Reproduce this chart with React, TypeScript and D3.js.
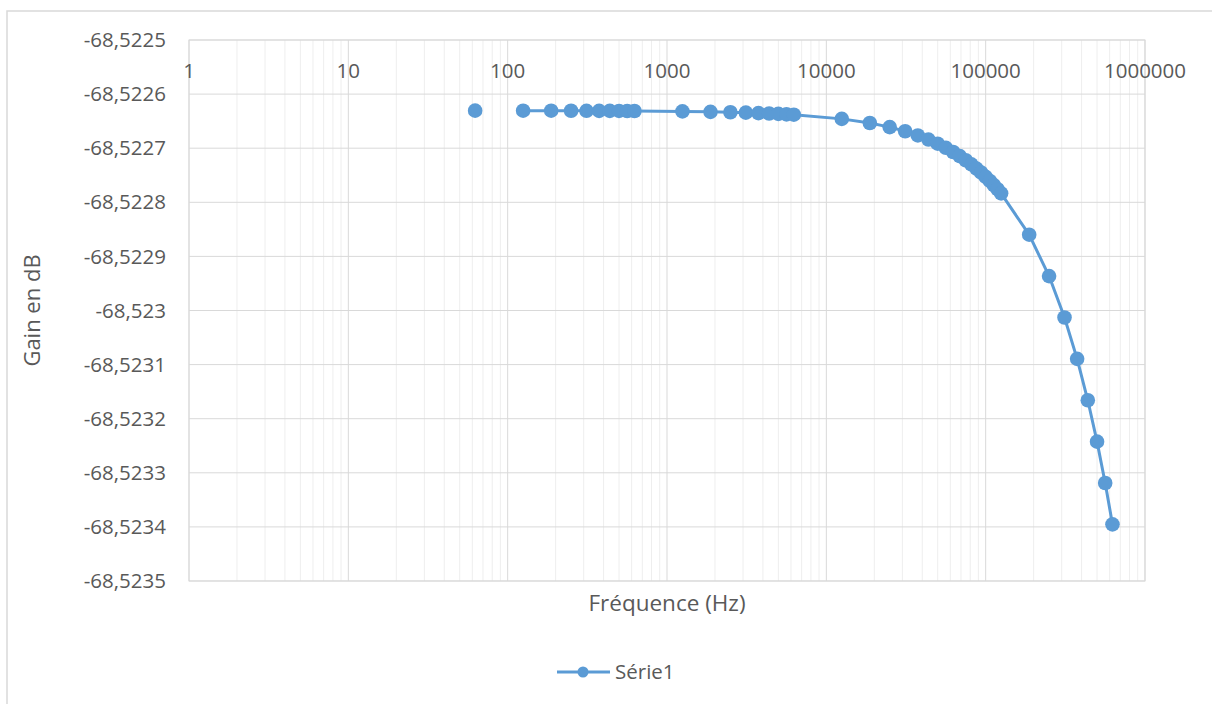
import * as d3 from 'd3';

// Frequencies (Hz) and gain (dB)
const FREQ = [
  62.5, 125, 187.5, 250, 312.5, 375, 437.5, 500, 562.5, 625,
  1250, 1875, 2500, 3125, 3750, 4375, 5000, 5625, 6250,
  12500, 18750, 25000, 31250, 37500, 43750, 50000, 56250, 62500, 68750,
  75000, 81250, 87500, 93750, 100000, 106250, 112500, 118750, 125000,
  187500, 250000, 312500, 375000, 437500, 500000, 562500, 625000,
];
const GAIN = [
  -68.5226306, -68.5226307, -68.5226307, -68.5226308, -68.5226309, -68.522631, -68.522631, -68.5226311, -68.5226312, -68.5226313,
  -68.522632, -68.5226328, -68.5226336, -68.5226343, -68.5226351, -68.5226359, -68.5226366, -68.5226374, -68.5226381,
  -68.5226458, -68.5226534, -68.5226611, -68.5226687, -68.5226764, -68.522684, -68.5226917, -68.5226993, -68.522707, -68.5227146,
  -68.5227223, -68.5227299, -68.5227376, -68.5227452, -68.5227529, -68.5227605, -68.5227682, -68.5227758, -68.5227835,
  -68.5228599, -68.5229364, -68.5230129, -68.5230894, -68.5231659, -68.5232424, -68.5233188, -68.5233953,
];
// the line is not drawn between these index pairs (empty row in the sheet)
const GAP_AFTER = [0];

const X_TICKS = [1, 10, 100, 1000, 10000, 100000, 1000000];
const Y_TICKS = [
  -68.5225, -68.5226, -68.5227, -68.5228, -68.5229, -68.523,
  -68.5231, -68.5232, -68.5233, -68.5234, -68.5235,
];

const SERIES_NAME = 'Série1';
const X_TITLE = 'Fréquence (Hz)';
const Y_TITLE = 'Gain en dB';

const W = 1212;
const H = 704;
const PLOT = { left: 189, top: 40, right: 1145, bottom: 581 };
const BLUE = '#5b9bd5';
const TEXT = '#595959';
const FONT = '"Open Sans", "Noto Sans", sans-serif';

export default function App() {
  const x = d3.scaleLog().domain([1, 1000000]).range([PLOT.left, PLOT.right]);
  const y = d3.scaleLinear().domain([-68.5235, -68.5225]).range([PLOT.bottom, PLOT.top]);

  const points = FREQ.map((f, i) => ({ f, g: GAIN[i] }));

  // split into segments at gaps
  const segments: { f: number; g: number }[][] = [];
  let cur: { f: number; g: number }[] = [];
  points.forEach((p, i) => {
    cur.push(p);
    if (GAP_AFTER.includes(i)) {
      segments.push(cur);
      cur = [];
    }
  });
  if (cur.length) segments.push(cur);

  const line = d3
    .line<{ f: number; g: number }>()
    .x((d) => x(d.f))
    .y((d) => y(d.g));

  const minor: number[] = [];
  for (let k = 0; k < 6; k++) {
    for (let m = 2; m <= 9; m++) minor.push(m * Math.pow(10, k));
  }

  const fmt = (v: number) => v.toFixed(4).replace(/0+$/, '').replace(/\.$/, '').replace('.', ',');

  return (
    <svg
      width={W}
      height={H}
      style={{ position: 'absolute', left: 0, top: 0, background: '#fff' }}
      fontFamily={FONT}
    >
      <rect x={7} y={11} width={W + 10} height={H + 10} fill="#fff" stroke="#d9d9d9" strokeWidth={1.5} />

      {/* minor vertical gridlines */}
      {minor.map((v) => (
        <line key={'m' + v} x1={x(v)} x2={x(v)} y1={PLOT.top} y2={PLOT.bottom} stroke="#eeeeee" strokeWidth={1} />
      ))}
      {/* major gridlines */}
      {X_TICKS.map((v) => (
        <line key={'x' + v} x1={x(v)} x2={x(v)} y1={PLOT.top} y2={PLOT.bottom} stroke="#d9d9d9" strokeWidth={1} />
      ))}
      {Y_TICKS.map((v) => (
        <line key={'y' + v} x1={PLOT.left} x2={PLOT.right} y1={y(v)} y2={y(v)} stroke="#d9d9d9" strokeWidth={1} />
      ))}
      <rect
        x={PLOT.left}
        y={PLOT.top}
        width={PLOT.right - PLOT.left}
        height={PLOT.bottom - PLOT.top}
        fill="none"
        stroke="#d9d9d9"
        strokeWidth={1}
      />

      {/* y tick labels */}
      {Y_TICKS.map((v) => (
        <text key={'yl' + v} x={166} y={y(v)} dy="0.35em" textAnchor="end" fontSize={20.5} fill={TEXT}>
          {'-' + fmt(-v)}
        </text>
      ))}
      {/* x tick labels (axis crosses at top) */}
      {X_TICKS.map((v) => (
        <text key={'xl' + v} x={x(v)} y={78} textAnchor="middle" fontSize={20.5} fill={TEXT}>
          {v}
        </text>
      ))}

      {/* series */}
      {segments.map((s, i) => (
        <path key={'s' + i} d={line(s) ?? ''} fill="none" stroke={BLUE} strokeWidth={3} strokeLinejoin="round" />
      ))}
      {points.map((p, i) => (
        <circle key={'p' + i} cx={x(p.f)} cy={y(p.g)} r={7.3} fill={BLUE} />
      ))}

      {/* axis titles */}
      <text x={667} y={611} textAnchor="middle" fontSize={22.5} fill={TEXT}>
        {X_TITLE}
      </text>
      <text
        transform={`translate(${40},${(PLOT.top + PLOT.bottom) / 2}) rotate(-90)`}
        textAnchor="middle"
        fontSize={22}
        fill={TEXT}
      >
        {Y_TITLE}
      </text>

      {/* legend */}
      <line x1={557} x2={610} y1={672} y2={672} stroke={BLUE} strokeWidth={3} />
      <circle cx={583} cy={672} r={5.5} fill={BLUE} />
      <text x={615} y={672} dy="0.35em" fontSize={20.5} fill={TEXT}>
        {SERIES_NAME}
      </text>
    </svg>
  );
}
